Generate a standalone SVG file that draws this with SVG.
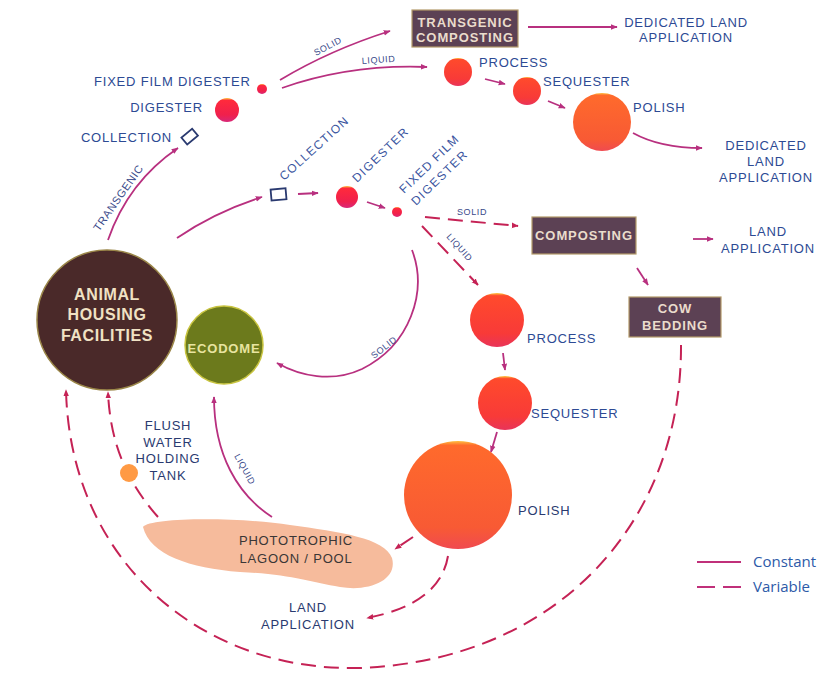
<svg xmlns="http://www.w3.org/2000/svg" width="824" height="678" viewBox="0 0 824 678">
<defs>
  <style>
    .lbl{font-family:"Liberation Sans",Arial,sans-serif;font-size:13px;letter-spacing:0.8px;fill:#2d4a94}
    .lbl2{font-family:"Liberation Sans",Arial,sans-serif;font-size:13px;letter-spacing:0.8px;fill:#2a3a70}
    .rl{font-family:"Liberation Sans",Arial,sans-serif;font-size:12px;letter-spacing:1.2px;fill:#3a55a0}
    .sm{font-family:"Liberation Sans",Arial,sans-serif;font-size:9px;letter-spacing:0.6px;fill:#3a4a8a}
    .box{fill:#5c4154;stroke:#b39a6a;stroke-width:1.2}
    .boxt{font-family:"Liberation Sans",Arial,sans-serif;font-size:13px;font-weight:bold;letter-spacing:0.9px;fill:#eadccc;text-anchor:middle}
    .c{fill:none;stroke:#b8307f;stroke-width:1.8}
    .d{fill:none;stroke:#c52255;stroke-width:2;stroke-dasharray:15 8}
    .legt{font-family:"Open Sans","Noto Sans",sans-serif;font-size:15px;fill:#2d5aa8}
  </style>
  <marker id="a" viewBox="0 0 10 10" refX="9" refY="5" markerWidth="7" markerHeight="7" markerUnits="userSpaceOnUse" orient="auto">
    <path d="M0,1 L10,5 L0,9 Z" fill="#b8307f"/>
  </marker>
  <marker id="ad" viewBox="0 0 10 10" refX="9" refY="5" markerWidth="7" markerHeight="7" markerUnits="userSpaceOnUse" orient="auto">
    <path d="M0,1 L10,5 L0,9 Z" fill="#c52255"/>
  </marker>
  <linearGradient id="gRed" x1="0" y1="0" x2="0" y2="1">
    <stop offset="0" stop-color="#ffcc40"/>
    <stop offset="0.1" stop-color="#ff2a3c"/>
    <stop offset="0.7" stop-color="#f0204c"/>
    <stop offset="1" stop-color="#d82878"/>
  </linearGradient>
  <linearGradient id="gOr" x1="0" y1="0" x2="0" y2="1">
    <stop offset="0" stop-color="#ffcc40"/>
    <stop offset="0.05" stop-color="#ff4a2c"/>
    <stop offset="0.75" stop-color="#f83a38"/>
    <stop offset="1" stop-color="#e8345a"/>
  </linearGradient>
  <linearGradient id="gPol" x1="0" y1="0" x2="0" y2="1">
    <stop offset="0" stop-color="#ffc040"/>
    <stop offset="0.04" stop-color="#ff6a2c"/>
    <stop offset="0.8" stop-color="#f85a34"/>
    <stop offset="1" stop-color="#f04a50"/>
  </linearGradient>
</defs>
<rect width="824" height="678" fill="#ffffff"/>

<g id="connectors">
  <path class="c" d="M108,240 Q128,182 178,148" marker-end="url(#a)"/>
  <path class="c" d="M280,80 Q330,50 390,31" marker-end="url(#a)"/>
  <path class="c" d="M282,88 Q350,64 427,67" marker-end="url(#a)"/>
  <path class="c" d="M528,27 L617,27" marker-end="url(#a)"/>
  <path class="c" d="M485,79 L505,84" marker-end="url(#a)"/>
  <path class="c" d="M548,101 L565,108" marker-end="url(#a)"/>
  <path class="c" d="M633,133 Q660,148 702,148" marker-end="url(#a)"/>
  <path class="c" d="M177,238 Q215,212 262,197" marker-end="url(#a)"/>
  <path class="c" d="M298,194 L318,193" marker-end="url(#a)"/>
  <path class="c" d="M367,202 L385,208" marker-end="url(#a)"/>
  <path class="d" d="M425,217 L518,226" marker-end="url(#ad)"/>
  <path class="d" d="M422,226 L478,285" marker-end="url(#ad)"/>
  <path class="c" d="M412,250 C428,292 410,345 362,369 C332,383 300,376 277,363" marker-end="url(#a)"/>
  <path class="c" d="M693,239 L713,239" marker-end="url(#a)"/>
  <path class="c" d="M637,268 L648,285" marker-end="url(#a)"/>
  <path class="c" d="M503,353 L505,370" marker-end="url(#a)"/>
  <path class="c" d="M497,432 L491,452" marker-end="url(#a)"/>
  <path class="d" d="M413,537 L395,549" marker-end="url(#ad)"/>
  <path class="d" d="M448,556 Q440,604 367,618" marker-end="url(#ad)"/>
  <path class="c" d="M272,517 C238,495 214,455 214,397" marker-end="url(#a)"/>
  <path class="d" d="M158,517 C125,480 110,440 108,392" marker-end="url(#ad)"/>
  <path class="d" d="M681,345 C682,520 560,660 360,668 C200,672 70,560 66,390" marker-end="url(#ad)"/>
  <text class="sm" transform="translate(316,56) rotate(-28)">SOLID</text>
  <text class="sm" transform="translate(362,64) rotate(-4)">LIQUID</text>
  <text class="sm" style="font-size:11px" transform="translate(99,232) rotate(-55)">TRANSGENIC</text>
  <text class="sm" x="457" y="215">SOLID</text>
  <text class="sm" transform="translate(446,237) rotate(48)">LIQUID</text>
  <text class="sm" transform="translate(374,359) rotate(-38)">SOLID</text>
  <text class="sm" transform="translate(234,456) rotate(61)">LIQUID</text>
</g>

<g id="animal-housing">
  <circle cx="107" cy="320" r="70" fill="#4a2929" stroke="#9a8648" stroke-width="1.5"/>
  <text class="boxt" style="font-size:16px;letter-spacing:0.6px;fill:#f0e2c4" x="107" y="300">ANIMAL</text>
  <text class="boxt" style="font-size:16px;letter-spacing:0.6px;fill:#f0e2c4" x="107" y="320">HOUSING</text>
  <text class="boxt" style="font-size:16px;letter-spacing:0.6px;fill:#f0e2c4" x="107" y="341">FACILITIES</text>
</g>
<g id="ecodome">
  <circle cx="224" cy="345" r="39" fill="#6c7a1c" stroke="#c8c440" stroke-width="1.5"/>
  <text class="boxt" style="fill:#e8e4a0;letter-spacing:0.8px" x="224" y="353">ECODOME</text>
</g>

<g id="collection-top">
  <rect x="183" y="132" width="14" height="9" fill="none" stroke="#2a3a70" stroke-width="1.8" transform="rotate(-40 190 137)"/>
  <text class="lbl" x="172" y="142" text-anchor="end">COLLECTION</text>
</g>
<g id="digester-top">
  <circle cx="227" cy="110" r="12" fill="url(#gRed)"/>
  <text class="lbl" x="203" y="112" text-anchor="end">DIGESTER</text>
</g>
<g id="fixed-film-top">
  <circle cx="262" cy="89" r="5" fill="url(#gRed)"/>
  <text class="lbl" x="94" y="86">FIXED FILM DIGESTER</text>
</g>
<g id="transgenic-composting">
  <rect class="box" x="412" y="10" width="106" height="37"/>
  <text class="boxt" x="465" y="27">TRANSGENIC</text>
  <text class="boxt" x="465" y="42">COMPOSTING</text>
</g>
<g id="dedicated-land-top">
  <text class="lbl" x="686" y="27" text-anchor="middle">DEDICATED LAND</text>
  <text class="lbl" x="686" y="42" text-anchor="middle">APPLICATION</text>
</g>
<g id="process-top">
  <circle cx="458" cy="72" r="14" fill="url(#gOr)"/>
  <text class="lbl" x="479" y="67">PROCESS</text>
</g>
<g id="sequester-top">
  <circle cx="527" cy="91" r="14" fill="url(#gOr)"/>
  <text class="lbl" x="543" y="86">SEQUESTER</text>
</g>
<g id="polish-top">
  <circle cx="602" cy="122" r="29" fill="url(#gPol)"/>
  <text class="lbl" x="633" y="112">POLISH</text>
</g>
<g id="dedicated-land-right">
  <text class="lbl" x="766" y="150" text-anchor="middle">DEDICATED</text>
  <text class="lbl" x="766" y="166" text-anchor="middle">LAND</text>
  <text class="lbl" x="766" y="182" text-anchor="middle">APPLICATION</text>
</g>

<g id="collection-low">
  <rect x="271" y="189" width="15" height="11" fill="none" stroke="#2a3a70" stroke-width="1.8" transform="rotate(-5 278 194)"/>
  <text class="rl" transform="translate(284,181) rotate(-42)">COLLECTION</text>
</g>
<g id="digester-low">
  <circle cx="347" cy="197" r="11" fill="url(#gRed)"/>
  <text class="rl" style="letter-spacing:1.5px" transform="translate(357,183) rotate(-44)">DIGESTER</text>
</g>
<g id="fixed-film-low">
  <circle cx="397" cy="212" r="5" fill="url(#gRed)"/>
  <text class="rl" transform="translate(404,194) rotate(-44)">FIXED FILM</text>
  <text class="rl" style="letter-spacing:1.5px" transform="translate(416,206) rotate(-44)">DIGESTER</text>
</g>
<g id="composting">
  <rect class="box" x="532" y="217" width="104" height="37"/>
  <text class="boxt" x="584" y="240">COMPOSTING</text>
</g>
<g id="land-app-right">
  <text class="lbl" x="768" y="236" text-anchor="middle">LAND</text>
  <text class="lbl" x="768" y="253" text-anchor="middle">APPLICATION</text>
</g>
<g id="cow-bedding">
  <rect class="box" x="629" y="297" width="92" height="40"/>
  <text class="boxt" x="675" y="313">COW</text>
  <text class="boxt" x="675" y="330">BEDDING</text>
</g>
<g id="process-low">
  <circle cx="497" cy="320" r="27" fill="url(#gOr)"/>
  <text class="lbl" x="527" y="343">PROCESS</text>
</g>
<g id="sequester-low">
  <circle cx="505" cy="403" r="27" fill="url(#gOr)"/>
  <text class="lbl" x="531" y="418">SEQUESTER</text>
</g>
<g id="polish-low">
  <circle cx="458" cy="495" r="54" fill="url(#gPol)"/>
  <text class="lbl2" x="518" y="515">POLISH</text>
</g>
<g id="lagoon">
  <path d="M143,527 C150,517 240,517 290,525 C340,532 385,538 392,558 C398,580 370,592 340,587 C310,582 290,574 240,572 C190,568 150,555 143,527 Z" fill="#f6bb9c"/>
  <text class="lbl2" style="fill:#3a3636" x="296" y="545" text-anchor="middle">PHOTOTROPHIC</text>
  <text class="lbl2" style="fill:#3a3636" x="296" y="563" text-anchor="middle">LAGOON / POOL</text>
</g>
<g id="land-app-bottom">
  <text class="lbl2" x="308" y="612" text-anchor="middle">LAND</text>
  <text class="lbl2" x="308" y="629" text-anchor="middle">APPLICATION</text>
</g>
<g id="flush-tank">
  <circle cx="129" cy="473" r="9" fill="#ff9a44"/>
  <text class="lbl2" x="168" y="430" text-anchor="middle">FLUSH</text>
  <text class="lbl2" x="168" y="447" text-anchor="middle">WATER</text>
  <text class="lbl2" x="168" y="463" text-anchor="middle">HOLDING</text>
  <text class="lbl2" x="168" y="480" text-anchor="middle">TANK</text>
</g>

<g id="legend">
  <line x1="697" y1="562" x2="741" y2="562" stroke="#c0307a" stroke-width="2"/>
  <line x1="697" y1="587" x2="741" y2="587" stroke="#c0307a" stroke-width="2" stroke-dasharray="18 8"/>
  <text class="legt" x="753" y="567">Constant</text>
  <text class="legt" x="753" y="592">Variable</text>
</g>
</svg>
